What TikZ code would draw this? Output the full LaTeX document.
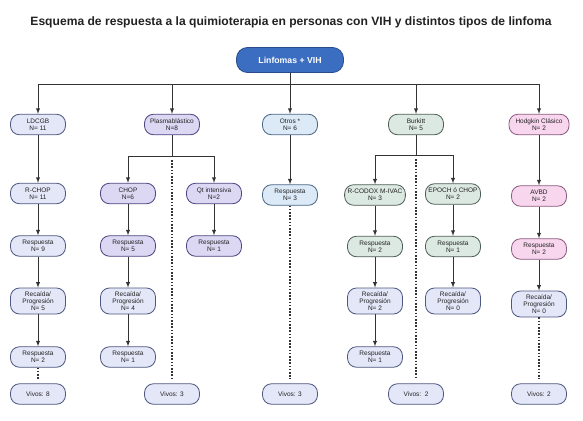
\documentclass[tikz,border=0pt]{standalone}
\usepackage{fontspec}
\setmainfont{Liberation Sans}
\usetikzlibrary{arrows}

\definecolor{linea}{HTML}{333333}
\definecolor{texto}{HTML}{222222}
\definecolor{raizfill}{HTML}{3B6EC1}
\definecolor{raizdraw}{HTML}{2A4C8A}
\definecolor{grisfill}{HTML}{E4E7F8}
\definecolor{grisdraw}{HTML}{4E5880}
\definecolor{lilafill}{HTML}{DCD8F4}
\definecolor{liladraw}{HTML}{4A4680}
\definecolor{celestefill}{HTML}{DCEAF8}
\definecolor{celestedraw}{HTML}{4A6685}
\definecolor{verdefill}{HTML}{DCE8E2}
\definecolor{verdedraw}{HTML}{4C5F55}
\definecolor{rosafill}{HTML}{F8D6EE}
\definecolor{rosadraw}{HTML}{8C5A80}

\begin{document}
\begin{tikzpicture}[x=1pt,y=-1pt,
    box/.style={draw, rounded corners=9pt, align=center, minimum width=55pt,
        minimum height=20.5pt, inner xsep=3pt, inner ysep=1pt, line width=0.8pt,
        text=texto, font=\fontsize{6.5}{7}\selectfont},
    gris/.style={box, fill=grisfill, draw=grisdraw},
    lila/.style={box, fill=lilafill, draw=liladraw},
    celeste/.style={box, fill=celestefill, draw=celestedraw},
    verde/.style={box, fill=verdefill, draw=verdedraw},
    rosa/.style={box, fill=rosafill, draw=rosadraw},
    recaida/.style={gris, minimum height=26pt},
    raiz/.style={draw=raizdraw, fill=raizfill, rounded corners=11pt, line width=0.8pt,
        minimum width=107pt, minimum height=25pt, text=white,
        font=\fontsize{8.7}{10}\selectfont\bfseries},
    titulo/.style={text=texto, font=\fontsize{12.1}{14}\selectfont\bfseries},
    arr/.style={-latex, line width=0.9pt, draw=linea},
    vivo/.style={line width=1.3pt, draw=linea, dash pattern=on 1.6pt off 1.6pt, shorten >=4pt}]

    \path[use as bounding box, fill=white] (0,0) rectangle (583,420);

    \node[titulo] (Titulo) at (291,22) {Esquema de respuesta a la quimioterapia en personas con VIH y distintos tipos de linfoma};
    \node[raiz] (Linfomas) at (290,60) {Linfomas + VIH};

    \node[gris] (LDCGB) at (38,124.5) {LDCGB\\N= 11};
    \node[lila] (Plasma) at (172,124.5) {Plasmablástico\\N=8};
    \node[celeste] (Otros) at (290,124.5) {Otros *\\N= 6};
    \node[verde] (Burkitt) at (416,124.5) {Burkitt\\N= 5};
    \node[rosa, minimum width=60pt] (Hodgkin) at (539,124.5) {Hodgkin Clásico\\N= 2};

    \node[gris] (RCHOP) at (38,193.5) {R-CHOP\\N= 11};
    \node[gris] (RespLD) at (38,246) {Respuesta\\N= 9};
    \node[recaida] (RecLD) at (38,301) {Recaída/\\Progresión\\N= 5};
    \node[gris] (Resp2LD) at (38,357) {Respuesta\\N= 2};
    \node[gris] (VivosLD) at (38,394) {Vivos: 8};

    \node[lila] (CHOP) at (128,193.5) {CHOP\\N=6};
    \node[lila] (Qt) at (214,193.5) {Qt intensiva\\N=2};
    \node[lila] (RespCHOP) at (128,246) {Respuesta\\N= 5};
    \node[lila] (RespQt) at (214,246) {Respuesta\\N= 1};
    \node[recaida] (RecCHOP) at (128,301) {Recaída/\\Progresión\\N= 4};
    \node[gris] (Resp2CHOP) at (128,357) {Respuesta\\N= 1};
    \node[gris] (VivosPl) at (172,394) {Vivos: 3};

    \node[celeste] (RespOt) at (290,195) {Respuesta\\N= 3};
    \node[gris] (VivosOt) at (290,394) {Vivos: 3};

    \node[verde] (RCODOX) at (375,195) {R-CODOX M-IVAC\\N= 3};
    \node[verde] (EPOCH) at (453,194) {EPOCH ó CHOP\\N= 2};
    \node[verde] (RespRC) at (375,246.5) {Respuesta\\N= 2};
    \node[verde] (RespEP) at (453,246.5) {Respuesta\\N= 1};
    \node[recaida] (RecRC) at (375,301) {Recaída/\\Progresión\\N= 2};
    \node[recaida] (RecEP) at (453,301) {Recaída/\\Progresión\\N= 0};
    \node[gris] (Resp2RC) at (375,357) {Respuesta\\N= 1};
    \node[gris] (VivosBu) at (416,394) {Vivos:\ \ 2};

    \node[rosa] (AVBD) at (539,196) {AVBD\\N= 2};
    \node[rosa] (RespHo) at (539,249) {Respuesta\\N= 2};
    \node[recaida] (RecHo) at (539,304) {Recaída/\\Progresión\\N= 0};
    \node[gris] (VivosHo) at (539,394) {Vivos: 2};

    \coordinate (Bus) at (290,84);
    \coordinate (BusPl) at (172,156);
    \coordinate (BusBu) at (416,155);

    \draw[arr] (Linfomas) -- (Bus) -| (LDCGB);
    \draw[arr] (Linfomas) -- (Bus) -| (Plasma);
    \draw[arr] (Linfomas) to (Otros);
    \draw[arr] (Linfomas) -- (Bus) -| (Burkitt);
    \draw[arr] (Linfomas) -- (Bus) -| (Hodgkin);

    \draw[arr] (LDCGB) to (RCHOP);
    \draw[arr] (RCHOP) to (RespLD);
    \draw[arr] (RespLD) to (RecLD);
    \draw[arr] (RecLD) to (Resp2LD);
    \draw[vivo] (Resp2LD) to (VivosLD);

    \draw[arr] (Plasma) -- (BusPl) -| (CHOP);
    \draw[arr] (Plasma) -- (BusPl) -| (Qt);
    \draw[arr] (CHOP) to (RespCHOP);
    \draw[arr] (Qt) to (RespQt);
    \draw[arr] (RespCHOP) to (RecCHOP);
    \draw[arr] (RecCHOP) to (Resp2CHOP);
    \draw[vivo, shorten <=4pt] (BusPl) to (VivosPl);

    \draw[arr] (Otros) to (RespOt);
    \draw[vivo] (RespOt) to (VivosOt);

    \draw[arr] (Burkitt) -- (BusBu) -| (RCODOX);
    \draw[arr] (Burkitt) -- (BusBu) -| (EPOCH);
    \draw[arr] (RCODOX) to (RespRC);
    \draw[arr] (EPOCH) to (RespEP);
    \draw[arr] (RespRC) to (RecRC);
    \draw[arr] (RespEP) to (RecEP);
    \draw[arr] (RecRC) to (Resp2RC);
    \draw[vivo, shorten <=4pt] (BusBu) to (VivosBu);

    \draw[arr] (Hodgkin) to (AVBD);
    \draw[arr] (AVBD) to (RespHo);
    \draw[arr] (RespHo) to (RecHo);
    \draw[vivo] (RecHo) to (VivosHo);
\end{tikzpicture}
\end{document}
